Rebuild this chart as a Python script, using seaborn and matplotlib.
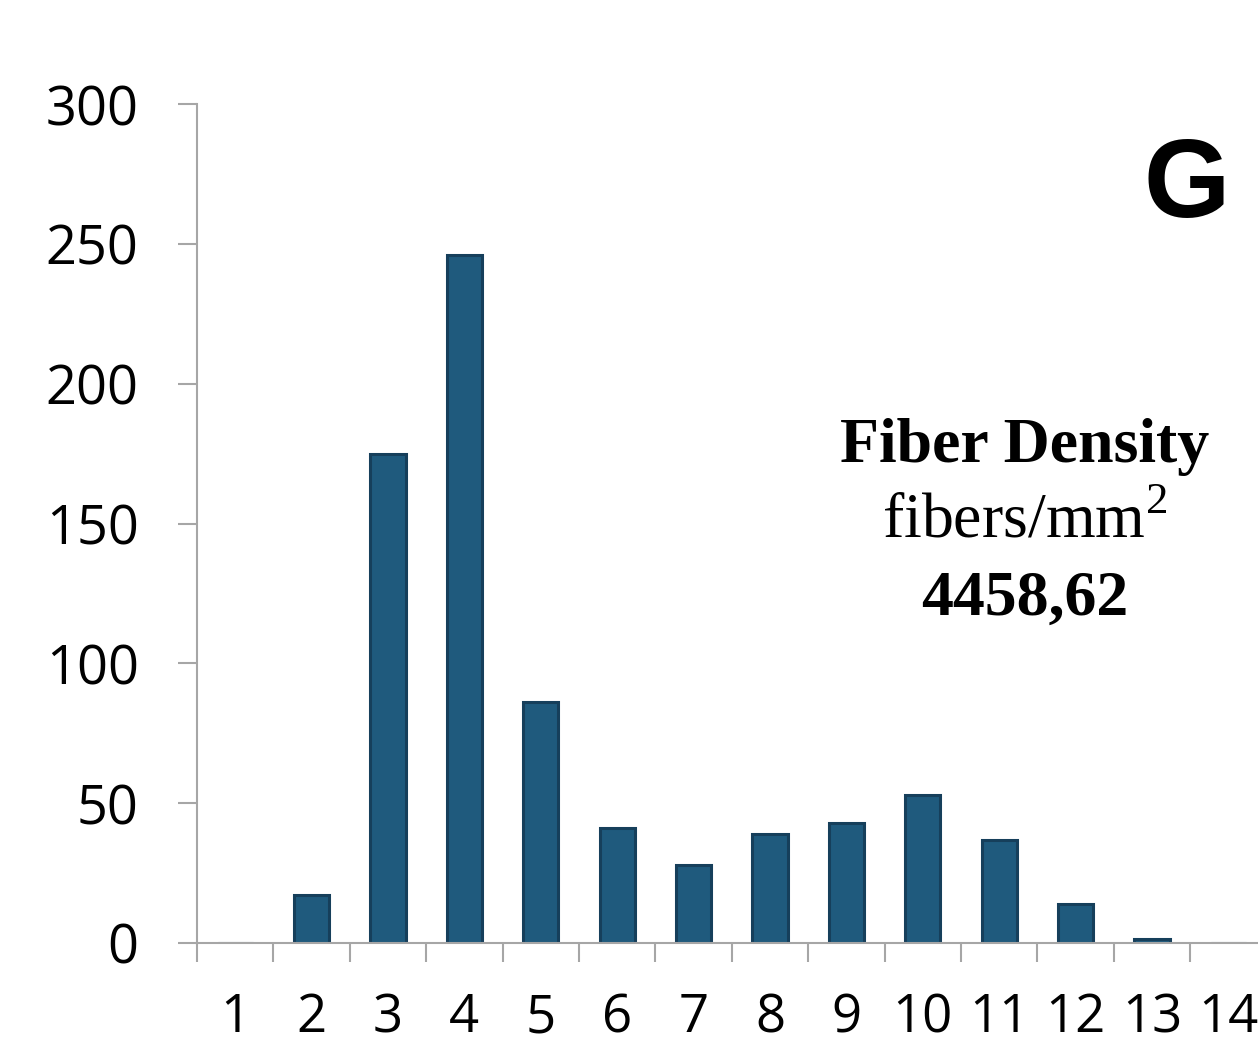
import matplotlib
matplotlib.use("Agg")
import matplotlib.pyplot as plt
import seaborn as sns
import numpy as np

categories = [str(i) for i in range(1, 15)]
counts = [0, 17, 175, 246, 86, 41, 28, 39, 43, 53, 37, 14, 1.4, 0]
yticks = [0, 50, 100, 150, 200, 250, 300]

sns.set_style("white")
plt.rcParams['font.family'] = ['Open Sans', 'DejaVu Sans']
plt.rcParams['mathtext.fontset'] = 'custom'
plt.rcParams['mathtext.rm'] = 'Liberation Serif'
plt.rcParams['text.color'] = 'black'
plt.rcParams['xtick.labelcolor'] = 'black'
plt.rcParams['ytick.labelcolor'] = 'black'

fig = plt.figure(figsize=(12.58, 10.5), dpi=100)
ax = fig.add_axes([197/1258, 107/1050, 1 - 197/1258, (943-104)/1050])

sns.barplot(x=categories, y=counts, color='#1f5a7d', edgecolor='#163f5b',
            linewidth=2.2, width=0.46, saturation=1, ax=ax)

ax.set_ylim(0, 300)
ax.set_xlim(-0.5, -0.5 + (1258-197)/76.4)
ax.set_yticks(yticks)
ax.set_yticklabels([str(v) for v in yticks], fontsize=39)
ax.set_xticks(range(len(categories)))
ax.set_xticklabels(categories, fontsize=38)
ax.set_xticks(np.arange(-0.5, 13.0, 1.0), minor=True)
ax.tick_params(axis='x', which='major', length=0, pad=35)
ax.tick_params(axis='x', which='minor', length=14, width=1.5, color='#a6a6a6', direction='out', bottom=True)
ax.tick_params(axis='y', which='major', length=14, width=1.5, color='#a6a6a6', direction='out', left=True, pad=28)
ax.set_xlabel('')
ax.set_ylabel('')

for s in ['top', 'right']:
    ax.spines[s].set_visible(False)
for s in ['left', 'bottom']:
    ax.spines[s].set_color('#a6a6a6')
    ax.spines[s].set_linewidth(1.5)

fig.text(1025/1258, 1 - 447/1050, 'Fiber Density', family='Liberation Serif',
         weight='bold', fontsize=46, ha='center', va='center', color='black')
fig.text(1025/1258, 1 - 523/1050, 'fibers/mm$^2$', family='Liberation Serif',
         fontsize=46, ha='center', va='center', color='black')
fig.text(1025/1258, 1 - 600/1050, '4458,62', family='Liberation Serif',
         weight='bold', fontsize=46, ha='center', va='center', color='black')
fig.text(1187/1258, 1 - 188/1050, 'G', family='Liberation Sans',
         weight='bold', fontsize=80, ha='center', va='center', color='black')

fig.savefig('out.png', dpi=100)
